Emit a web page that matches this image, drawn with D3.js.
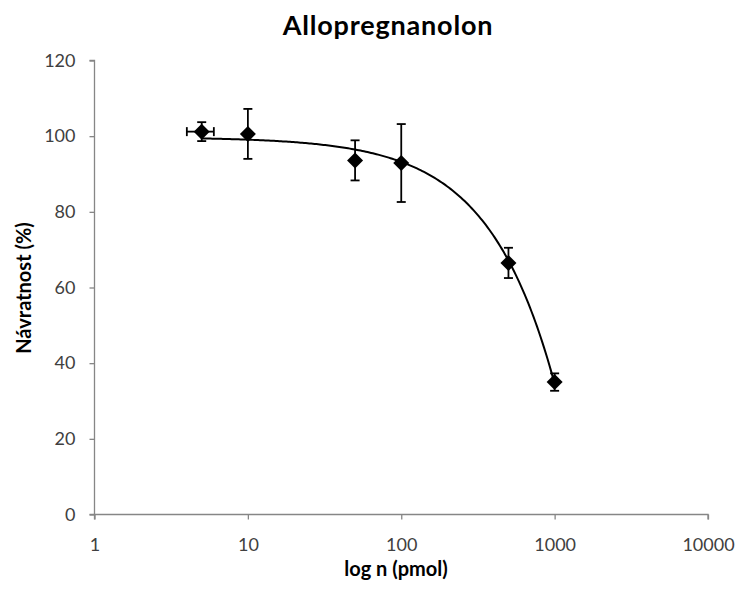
<!DOCTYPE html>
<html lang="cs">
<head>
  <meta charset="UTF-8">
  <title>Allopregnanolon</title>
  <style>
    body { margin: 0; background: #fff; }
    text { font-family: Lato, "Open Sans", sans-serif; }
    .tick text { fill: #404040; font-size: 18px; }
    .axis path, .axis line { stroke: #868686; stroke-width: 1.3; }
  </style>
</head>
<body>
  <script src="https://d3js.org/d3.v7.min.js"></script>
  <script>
    // data
    const amounts = [5, 10, 50, 100, 500, 1000];          // pmol
    const recovery = [101.2, 100.6, 93.6, 92.9, 66.5, 35.0]; // %
    const yErr = [2.5, 6.6, 5.3, 10.3, 4.0, 2.3];
    const xErr = [1, 0, 0, 0, 0, 0];
    const xTicks = [1, 10, 100, 1000, 10000];
    const yTicks = [0, 20, 40, 60, 80, 100, 120];

    const width = 738, height = 590;
    const svg = d3.select("body").append("svg").attr("width", width).attr("height", height);

    const x = d3.scaleLog().domain([1, 10000]).range([94.5, 708]);
    const y = d3.scaleLinear().domain([0, 120]).range([514.5, 60.5]);

    // axes
    svg.append("g").attr("class", "axis")
      .attr("transform", `translate(0,${y(0)})`)
      .call(d3.axisBottom(x).tickValues(xTicks).tickFormat(d3.format("d")).tickSize(5).tickPadding(19))
      .call(g => g.select(".domain").attr("d", `M${x(1)},5V0H${x(10000)}V5`));

    svg.append("g").attr("class", "axis")
      .attr("transform", `translate(${x(1)},0)`)
      .call(d3.axisLeft(y).tickValues(yTicks).tickSize(5).tickPadding(14))
      .call(g => g.select(".domain").attr("d", `M-5,${y(120)}H0V${y(0)}H-5`));

    svg.selectAll(".tick text").style("font-family", "Lato, 'Open Sans', sans-serif");

    // linear trendline (least squares), shown on log axis
    const mx = d3.mean(amounts), my = d3.mean(recovery);
    const b = d3.sum(amounts, (v, i) => (v - mx) * (recovery[i] - my)) / d3.sum(amounts, v => (v - mx) ** 2);
    const a = my - b * mx;
    const trendX = d3.range(0, 201).map(i => Math.pow(10, Math.log10(5) + i / 200 * (3 - Math.log10(5))));
    svg.append("path")
      .datum(trendX)
      .attr("fill", "none").attr("stroke", "#000").attr("stroke-width", 2)
      .attr("d", d3.line().x(d => x(d)).y(d => y(a + b * d)));

    // error bars
    const pts = amounts.map((v, i) => ({x: v, y: recovery[i], ey: yErr[i], ex: xErr[i]}));
    const eb = svg.append("g").attr("stroke", "#000").attr("stroke-width", 1.8);
    const cap = 4.5;
    pts.forEach(p => {
      const cx = x(p.x), cy = y(p.y);
      const t = y(p.y + p.ey), bt = y(p.y - p.ey);
      eb.append("line").attr("x1", cx).attr("x2", cx).attr("y1", t).attr("y2", bt);
      eb.append("line").attr("x1", cx - cap).attr("x2", cx + cap).attr("y1", t).attr("y2", t);
      eb.append("line").attr("x1", cx - cap).attr("x2", cx + cap).attr("y1", bt).attr("y2", bt);
      if (p.ex > 0) {
        const l = x(p.x - p.ex), r = x(p.x + p.ex);
        eb.append("line").attr("x1", l).attr("x2", r).attr("y1", cy).attr("y2", cy);
        eb.append("line").attr("x1", l).attr("x2", l).attr("y1", cy - cap).attr("y2", cy + cap);
        eb.append("line").attr("x1", r).attr("x2", r).attr("y1", cy - cap).attr("y2", cy + cap);
      }
    });

    // diamond markers
    const r = 8;
    svg.append("g").selectAll("path").data(pts).join("path")
      .attr("fill", "#000")
      .attr("d", p => {
        const cx = x(p.x), cy = y(p.y);
        return `M${cx},${cy - r}L${cx + r},${cy}L${cx},${cy + r}L${cx - r},${cy}Z`;
      });

    // titles
    svg.append("text").attr("x", 388).attr("y", 35).attr("text-anchor", "middle")
      .style("font-size", "27px").style("font-weight", "bold").style("letter-spacing", "0.8px")
      .text("Allopregnanolon");
    svg.append("text").attr("x", 396).attr("y", 576).attr("text-anchor", "middle")
      .style("font-size", "20px").style("font-weight", "bold").text("log n (pmol)");
    svg.append("text").attr("transform", "translate(31,288) rotate(-90)").attr("text-anchor", "middle")
      .style("font-size", "20px").style("font-weight", "bold").text("Návratnost (%)");
  </script>
</body>
</html>
